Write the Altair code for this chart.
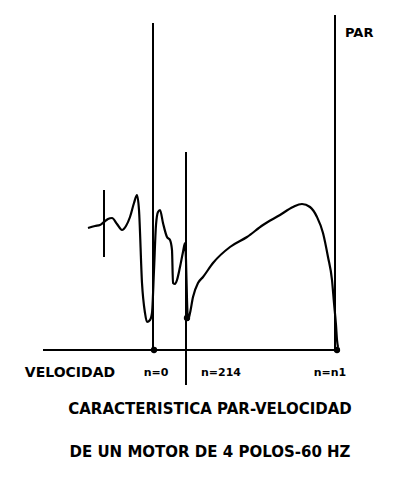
import altair as alt
import pandas as pd

# Torque-speed curve (speed in arbitrary units, n=0 at 0; torque arbitrary)
curve_speed = [-66, -59, -54, -50, -46, -42, -37, -32, -28, -24, -20, -17, -15, -12, -9, -7, -4, -2,
               0, 2, 4, 6, 9, 13, 16, 18, 19, 21, 23, 26, 29, 31, 32, 33, 34, 36, 39, 44, 49, 59,
               76, 93, 109, 126, 139, 148, 156, 163, 169, 174, 178, 180, 182, 183, 184]
curve_torque = [122, 124, 125, 128, 131, 132, 126, 120, 124, 133, 147, 155, 140, 67, 37, 28, 30, 37,
                80, 125, 138, 140, 127, 113, 110, 100, 67, 66, 70, 83, 98, 107, 90, 50, 30, 37, 53, 67, 73, 87,
                103, 113, 125, 135, 143, 146, 143, 133, 117, 93, 70, 47, 25, 10, 3]

# Vertical reference lines: speed position, bottom, top
vline_x = [-1, 32, 181, -50]
vline_y1 = [0, -35, 0, 93]
vline_y2 = [327, 198, 335, 160]

# Horizontal speed axis
axis_x = [-111, 184]

# Marker dots
dot_x = [0, 183, 33]
dot_y = [0, 0, 32]

# Labels
lab_text = ["VELOCIDAD", "n=0", "n=214", "n=n1"]
lab_x = [-84, 2, 67, 176]
lab_y = [-23, -23, -23, -23]
lab_size = [14, 11, 11, 11]

title_text = ["CARACTERISTICA PAR-VELOCIDAD", "DE UN MOTOR DE 4 POLOS-60 HZ"]
title_x = [56, 56]
title_y = [-59, -102]

par_text = ["PAR"]
par_x = [191]
par_y = [317]

xs = alt.Scale(domain=[-146, 245], nice=False, zero=False)
ys = alt.Scale(domain=[-128, 342], nice=False, zero=False)

curve_df = pd.DataFrame({"s": curve_speed, "t": curve_torque, "o": range(len(curve_speed))})
vl_df = pd.DataFrame({"x": vline_x, "y1": vline_y1, "y2": vline_y2})
ax_df = pd.DataFrame({"x1": [axis_x[0]], "x2": [axis_x[1]], "y": [0]})
dot_df = pd.DataFrame({"x": dot_x, "y": dot_y})
lab_df = pd.DataFrame({"text": lab_text, "x": lab_x, "y": lab_y, "size": lab_size})
tit_df = pd.DataFrame({"text": title_text, "x": title_x, "y": title_y})
par_df = pd.DataFrame({"text": par_text, "x": par_x, "y": par_y})

X = lambda f: alt.X(f, type="quantitative", scale=xs, axis=None)
Y = lambda f: alt.Y(f, type="quantitative", scale=ys, axis=None)

curve = alt.Chart(curve_df).mark_line(color="black", strokeWidth=2.2, interpolate="monotone").encode(
    x=X("s"), y=Y("t"), order="o:Q")
vlines = alt.Chart(vl_df).mark_rule(color="black", strokeWidth=2).encode(
    x=X("x"), y=Y("y1"), y2="y2:Q")
axis = alt.Chart(ax_df).mark_rule(color="black", strokeWidth=2).encode(
    x=X("x1"), x2="x2:Q", y=Y("y"))
dots = alt.Chart(dot_df).mark_circle(color="black", opacity=1, size=40).encode(
    x=X("x"), y=Y("y"))
labels = alt.Chart(lab_df).mark_text(font="DejaVu Sans", fontWeight="bold", color="black",
                                     align="center", baseline="middle").encode(
    x=X("x"), y=Y("y"), text="text:N", size=alt.Size("size:Q", scale=None, legend=None))
titles = alt.Chart(tit_df).mark_text(font="DejaVu Sans", fontWeight="bold", fontSize=15,
                                     color="black", align="center", baseline="middle").encode(
    x=X("x"), y=Y("y"), text="text:N")
par = alt.Chart(par_df).mark_text(font="DejaVu Sans", fontWeight="bold", fontSize=13,
                                  color="black", align="left", baseline="middle").encode(
    x=X("x"), y=Y("y"), text="text:N")

chart = alt.layer(axis, vlines, curve, dots, labels, titles, par).properties(
    width=391, height=470, padding=0, autosize=alt.AutoSizeParams(type="none"),
    background="white"
).configure_view(stroke=None)

chart.save("out.html", embed_options={"renderer": "svg", "actions": False})
